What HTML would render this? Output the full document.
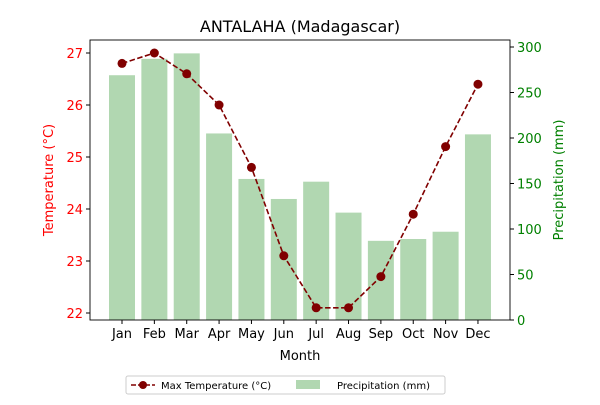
<!DOCTYPE html>
<html><head><meta charset="utf-8"><style>
body{margin:0;background:#fff;font-family:"Liberation Sans","DejaVu Sans",sans-serif}
</style></head><body>
<svg id="c" width="600" height="400" xmlns="http://www.w3.org/2000/svg" font-family="DejaVu Sans, Liberation Sans, sans-serif"></svg>
<script>
const months=["Jan","Feb","Mar","Apr","May","Jun","Jul","Aug","Sep","Oct","Nov","Dec"];
const temps=[26.8,27.0,26.6,26.0,24.8,23.1,22.1,22.1,22.7,23.9,25.2,26.4];
const precip=[269,287,293,205,155,133,152,118,87,89,97,204];
const tempTicks=[22,23,24,25,26,27];
const precipTicks=[0,50,100,150,200,250,300];
const L=90,R=510,T=40,B=320;
const svg=document.getElementById('c');
const NS="http://www.w3.org/2000/svg";
function xS(i){return 122+i*32.36;}
function yT(v){return 313-(v-22)*52;}
function yP(v){return 320-v*0.91;}
function mk(t,a,p,txt){const e=document.createElementNS(NS,t);for(const k in a)e.setAttribute(k,a[k]);if(txt!==undefined)e.textContent=txt;(p||svg).appendChild(e);return e;}
let g=mk('g',{});


precip.forEach((v,i)=>{const r=mk('rect',{x:xS(i)-13,y:yP(v),width:26,height:B-yP(v),fill:'#b1d7b1'},g);

});
let pts=temps.map((v,i)=>xS(i)+','+yT(v)).join(' ');
let ln=mk('polyline',{points:pts,fill:'none',stroke:'#800000','stroke-width':1.6,'stroke-dasharray':'5.5,2.5'});


temps.forEach((v,i)=>{const c=mk('circle',{cx:xS(i),cy:yT(v),r:4.5,fill:'#800000'});

});
mk('rect',{x:L,y:T,width:R-L,height:B-T,fill:'none',stroke:'#000','stroke-width':0.9});
months.forEach((m,i)=>{mk('line',{x1:xS(i),x2:xS(i),y1:B,y2:B+4,stroke:'#000'});
const t=mk('text',{x:xS(i),y:B+18,'text-anchor':'middle','font-size':13},null,m);

});
tempTicks.forEach(v=>{mk('line',{x1:L-4,x2:L,y1:yT(v),y2:yT(v),stroke:'#000'});
const t=mk('text',{x:L-7,y:yT(v)+5,'text-anchor':'end','font-size':13,fill:'red'},null,v);

});
precipTicks.forEach(v=>{mk('line',{x1:R,x2:R+4,y1:yP(v),y2:yP(v),stroke:'#000'});
const t=mk('text',{x:R+7,y:yP(v)+5,'font-size':13,fill:'green'},null,v);

});
</script>
<svg width="600" height="400" style="position:absolute;left:0;top:0" font-family="DejaVu Sans, Liberation Sans, sans-serif">
<text x="300" y="32" text-anchor="middle" font-size="16">ANTALAHA (Madagascar)</text>
<text x="300" y="360" text-anchor="middle" font-size="13">Month</text>
<text transform="translate(53,180) rotate(-90)" text-anchor="middle" font-size="13" fill="red">Temperature (°C)</text>
<text transform="translate(563,180) rotate(-90)" text-anchor="middle" font-size="13" fill="green">Precipitation (mm)</text>
<g>
<rect x="126" y="376" width="319" height="18" fill="#fff" stroke="#ccc" rx="2"/>
<line x1="131" x2="155" y1="385" y2="385" stroke="#800000" stroke-width="1.6" stroke-dasharray="5,2"/>
<circle cx="143" cy="385" r="4" fill="#800000"/>
<text x="161" y="389" font-size="10">Max Temperature (°C)</text>
<rect x="296" y="380" width="24" height="9" fill="#b1d7b1"/>
<text x="337" y="389" font-size="10">Precipitation (mm)</text>
</g>
</svg>
</body></html>
